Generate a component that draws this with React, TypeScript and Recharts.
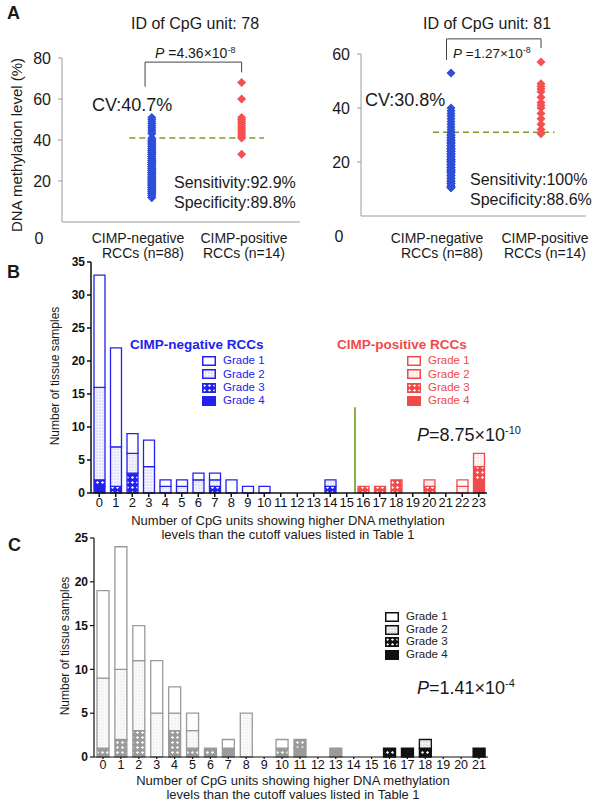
import type { CSSProperties, ReactNode } from "react";
import {
  ScatterChart,
  Scatter,
  XAxis,
  YAxis,
  ReferenceLine,
  BarChart,
  Bar,
  Cell,
} from "recharts";

const FONT = '"Liberation Sans", Arial, Helvetica, sans-serif';

// ---- panel A: methylation level per sample ----
const groupX = { negative: 2, positive: 4 };

const unit78Negative = [
  51, 50, 49, 48, 47, 46, 45, 44, 43, 41, 40, 40, 39, 39, 38, 38, 37, 37, 36,
  36, 35, 35, 35, 34, 34, 33, 33, 33, 32, 32, 31, 31, 31, 30, 30, 30, 29, 29,
  29, 28, 28, 28, 27, 27, 27, 26, 26, 26, 25, 25, 25, 24, 24, 24, 23, 23, 23,
  22, 22, 22, 21, 21, 21, 20, 20, 20, 19, 19, 19, 18, 18, 18, 17, 17, 17, 16,
  16, 16, 15, 15, 15, 14, 14, 14, 13, 13, 12, 12,
];
const unit78Positive = [68, 60, 51, 50, 49, 48, 47, 46, 45, 44, 43, 42, 41, 33];
const unit81Negative = [
  53, 40, 39, 38, 37, 36, 35, 34, 33, 32, 31, 31, 30, 30, 30, 29, 29, 29, 28,
  28, 28, 27, 27, 27, 27, 26, 26, 26, 26, 25, 25, 25, 25, 24, 24, 24, 24, 23,
  23, 23, 23, 22, 22, 22, 22, 21, 21, 21, 21, 20, 20, 20, 20, 19, 19, 19, 19,
  18, 18, 18, 18, 17, 17, 17, 17, 16, 16, 16, 15, 15, 15, 14, 14, 14, 13, 13,
  13, 12, 12, 12, 11, 11, 11, 10.5, 10.5, 24.5, 20.5, 16.5,
];
const unit81Positive = [57, 49, 48, 47, 46, 44, 42, 41, 40, 38, 36, 34, 32, 30.5];
const unit78Cutoff = 41;
const unit81Cutoff = 31;

// ---- panel B: 102 RCCs, stacked by grade ----
const bCounts = [
  0, 1, 2, 3, 4, 5, 6, 7, 8, 9, 10, 11, 12, 13, 14, 15, 16, 17, 18, 19, 20, 21,
  22, 23,
];
const bGrade1 = [17, 15, 3, 4, 1, 1, 1, 1, 2, 1, 1, 0, 0, 0, 0, 0, 0, 0, 0, 0, 0, 0, 1, 0];
const bGrade2 = [14, 6, 3, 4, 1, 1, 2, 1, 0, 0, 0, 0, 0, 0, 1, 0, 0, 0, 0, 0, 1, 0, 1, 2];
const bGrade3 = [1, 1, 3, 0, 0, 0, 0, 1, 0, 0, 0, 0, 0, 0, 1, 0, 1, 1, 2, 0, 1, 0, 0, 2];
const bGrade4 = [1, 0, 0, 0, 0, 0, 0, 0, 0, 0, 0, 0, 0, 0, 0, 0, 0, 0, 0, 0, 0, 0, 0, 2];
const bPositiveFrom = 16;
const bCutoffCount = 16;
const bCutoffHeight = 13;

// ---- panel C ----
const cCounts = [
  0, 1, 2, 3, 4, 5, 6, 7, 8, 9, 10, 11, 12, 13, 14, 15, 16, 17, 18, 19, 20, 21,
];
const cGrade1 = [10, 14, 4, 6, 3, 2, 0, 1, 0, 0, 1, 0, 0, 0, 0, 0, 0, 0, 0, 0, 0, 0];
const cGrade2 = [8, 8, 8, 5, 2, 2, 0, 0, 5, 0, 0, 0, 0, 0, 0, 0, 0, 0, 1, 0, 0, 0];
const cGrade3 = [1, 2, 3, 0, 3, 1, 1, 0, 0, 0, 1, 1, 0, 0, 0, 0, 1, 0, 1, 0, 0, 0];
const cGrade4 = [0, 0, 0, 0, 0, 0, 0, 1, 0, 0, 0, 1, 0, 1, 0, 0, 0, 1, 0, 0, 0, 1];
const cPositiveFrom = 16;

const gradeLabels = ["Grade 1", "Grade 2", "Grade 3", "Grade 4"];

const palette: Record<string, string> = {
  blue: "#2222ee",
  red: "#f04a4a",
  grey: "#9a9a9a",
  black: "#111111",
};

function fillFor(grade: number, colour: string) {
  if (grade === 1) return "#ffffff";
  if (grade === 2) return `url(#dots-${colour})`;
  if (grade === 3) return `url(#cross-${colour})`;
  return palette[colour];
}

function PatternDefs() {
  return (
    <svg width={0} height={0} style={{ position: "absolute" }}>
      <defs>
        {Object.keys(palette).map((c) => (
          <g key={c}>
            <pattern id={`dots-${c}`} width={3} height={3} patternUnits="userSpaceOnUse">
              <rect width={3} height={3} fill="#fff" />
              <rect width={3} height={3} fill={palette[c]} opacity={0.05} />
              <circle cx={1} cy={1} r={0.55} fill={palette[c]} opacity={0.4} />
            </pattern>
            <pattern id={`cross-${c}`} width={5} height={5} patternUnits="userSpaceOnUse">
              <rect width={5} height={5} fill={palette[c]} />
              <path d="M2.5,0.9 L4.1,2.5 L2.5,4.1 L0.9,2.5 Z" fill="#fff" />
            </pattern>
          </g>
        ))}
      </defs>
    </svg>
  );
}

interface TextProps {
  x: number;
  y: number;
  size: number;
  align?: "left" | "center" | "right";
  bold?: boolean;
  color?: string;
  rotate?: boolean;
  children: ReactNode;
}

function Text({ x, y, size, align = "left", bold, color = "#1a1a1a", rotate, children }: TextProps) {
  const shift = align === "left" ? "0" : align === "center" ? "-50%" : "-100%";
  const style: CSSProperties = {
    position: "absolute",
    left: x,
    top: y,
    fontSize: size,
    fontFamily: FONT,
    fontWeight: bold ? "bold" : "normal",
    color,
    whiteSpace: "nowrap",
    lineHeight: 1,
    transform: rotate
      ? "translate(-50%, -50%) rotate(-90deg)"
      : `translate(${shift}, -50%)`,
  };
  return <div style={style}>{children}</div>;
}

function GradeLegend({ x, y, gap, colour, textColour, size }: {
  x: number; y: number; gap: number; colour: string; textColour: string; size: number;
}) {
  return (
    <>
      {gradeLabels.map((label, i) => (
        <div
          key={label}
          style={{ position: "absolute", left: x, top: y + i * gap - 5, display: "flex", alignItems: "center", height: 10 }}
        >
          <svg width={14} height={10}>
            <rect x={0.75} y={0.75} width={12.5} height={8.5} fill={fillFor(i + 1, colour)} stroke={palette[colour]} strokeWidth={1.5} />
          </svg>
          <span style={{ marginLeft: 7, fontSize: size, fontFamily: FONT, color: textColour, lineHeight: 1 }}>
            {label}
          </span>
        </div>
      ))}
    </>
  );
}

const Diamond = (props: any) => {
  const { cx, cy, fill } = props;
  const r = 4.5;
  return <path d={`M${cx},${cy - r}L${cx + r},${cy}L${cx},${cy + r}L${cx - r},${cy}Z`} fill={fill} />;
};

const toPoints = (values: number[], x: number) => values.map((y) => ({ x, y }));

interface MethylationProps {
  width: number;
  margin: { top: number; right: number; bottom: number; left: number };
  xMax: number;
  yMax: number;
  yTicks: number[];
  negative: number[];
  positive: number[];
  cutoff: number;
  cutoffFrom: number;
  cutoffTo: number;
  bracket: { left: number; top: number; leftEnd: number; rightEnd: number };
}

function MethylationPanel(p: MethylationProps) {
  const axisColour = "#9a9a9a";
  const b = p.bracket;
  return (
    <ScatterChart width={p.width} height={260} margin={p.margin}>
      <XAxis
        type="number"
        dataKey="x"
        domain={[0, p.xMax]}
        ticks={[0, 1, 2, 3, 4, 5]}
        tick={false}
        tickSize={5}
        height={10}
        axisLine={{ stroke: axisColour }}
        tickLine={{ stroke: axisColour }}
      />
      <YAxis
        type="number"
        dataKey="y"
        domain={[0, p.yMax]}
        ticks={p.yTicks}
        width={50}
        tickSize={4}
        tickMargin={7}
        axisLine={{ stroke: axisColour }}
        tickLine={{ stroke: axisColour }}
        tick={{ fontSize: 16, fill: "#1a1a1a", fontFamily: FONT }}
      />
      <ReferenceLine
        segment={[{ x: p.cutoffFrom, y: p.cutoff }, { x: p.cutoffTo, y: p.cutoff }]}
        stroke="#7f9a2c"
        strokeWidth={1.5}
        strokeDasharray="6 4"
      />
      <Scatter data={toPoints(p.negative, groupX.negative)} fill="#2d4fd8" shape={Diamond} isAnimationActive={false} />
      <Scatter data={toPoints(p.positive, groupX.positive)} fill="#f55050" shape={Diamond} isAnimationActive={false} />
      <ReferenceLine ifOverflow="visible" segment={[{ x: b.left, y: b.leftEnd }, { x: b.left, y: b.top }]} stroke="#444" />
      <ReferenceLine ifOverflow="visible" segment={[{ x: b.left, y: b.top }, { x: groupX.positive, y: b.top }]} stroke="#444" />
      <ReferenceLine ifOverflow="visible" segment={[{ x: groupX.positive, y: b.top }, { x: groupX.positive, y: b.rightEnd }]} stroke="#444" />
    </ScatterChart>
  );
}

interface GradeChartProps {
  counts: number[];
  g1: number[];
  g2: number[];
  g3: number[];
  g4: number[];
  positiveFrom: number;
  negativeColour: string;
  positiveColour: string;
  height: number;
  margin: { top: number; right: number; bottom: number; left: number };
  yMax: number;
  barSize: number;
  axisWidth: number;
  xTickSize: number;
  xTickFont: number;
  children?: ReactNode;
}

function GradeChart(p: GradeChartProps) {
  const data = p.counts.map((count, i) => ({
    count,
    g1: p.g1[i],
    g2: p.g2[i],
    g3: p.g3[i],
    g4: p.g4[i],
  }));
  const colourAt = (count: number) => (count >= p.positiveFrom ? p.positiveColour : p.negativeColour);
  const ticks: number[] = [];
  for (let t = 0; t <= p.yMax; t += 5) ticks.push(t);
  const series: [string, number][] = [["g4", 4], ["g3", 3], ["g2", 2], ["g1", 1]];
  return (
    <BarChart width={500} height={p.height} data={data} margin={p.margin} barSize={p.barSize}>
      <XAxis
        dataKey="count"
        interval={0}
        height={20}
        tickSize={p.xTickSize}
        tickMargin={1}
        axisLine={{ stroke: "#111", strokeWidth: p.axisWidth }}
        tickLine={{ stroke: "#111", strokeWidth: p.axisWidth }}
        tick={{ fontSize: p.xTickFont, fill: "#111", fontFamily: FONT }}
      />
      <YAxis
        domain={[0, p.yMax]}
        ticks={ticks}
        width={41}
        tickSize={4}
        tickMargin={2}
        axisLine={{ stroke: "#111", strokeWidth: p.axisWidth }}
        tickLine={{ stroke: "#111", strokeWidth: p.axisWidth }}
        tick={{ fontSize: 12, fontWeight: "bold", fill: "#111", fontFamily: FONT }}
      />
      {series.map(([key, grade]) => (
        <Bar key={key} dataKey={key} stackId="grades" isAnimationActive={false}>
          {data.map((d) => (
            <Cell
              key={d.count}
              fill={fillFor(grade, colourAt(d.count))}
              stroke={palette[colourAt(d.count)]}
              strokeWidth={1.3}
            />
          ))}
        </Bar>
      ))}
      {p.children}
    </BarChart>
  );
}

export default function App() {
  return (
    <div style={{ position: "absolute", left: 0, top: 0, width: 600, height: 800, background: "#fff", overflow: "hidden" }}>
      <PatternDefs />

      {/* panel A */}
      <div style={{ position: "absolute", left: 0, top: 0 }}>
        <MethylationPanel
          width={310}
          margin={{ top: 58, right: 10, bottom: 28, left: 12 }}
          xMax={5.3}
          yMax={80}
          yTicks={[20, 40, 60, 80]}
          negative={unit78Negative}
          positive={unit78Positive}
          cutoff={unit78Cutoff}
          cutoffFrom={1.5}
          cutoffTo={4.5}
          bracket={{ left: 1.85, top: 78, leftEnd: 66, rightEnd: 73 }}
        />
      </div>
      <div style={{ position: "absolute", left: 300, top: 0 }}>
        <MethylationPanel
          width={300}
          margin={{ top: 54, right: 14, bottom: 34, left: 11 }}
          xMax={5}
          yMax={60}
          yTicks={[20, 40, 60]}
          negative={unit81Negative}
          positive={unit81Positive}
          cutoff={unit81Cutoff}
          cutoffFrom={1.6}
          cutoffTo={4.3}
          bracket={{ left: 1.9, top: 65.6, leftEnd: 57.8, rightEnd: 62.2 }}
        />
      </div>

      <Text x={7} y={13} size={18} bold>A</Text>
      <Text x={195} y={24} size={16} align="center">ID of CpG unit: 78</Text>
      <Text x={487} y={24} size={16} align="center">ID of CpG unit: 81</Text>
      <Text x={16} y={145} size={15} rotate>DNA methylation level (%)</Text>
      <Text x={39} y={239} size={16} align="center">0</Text>
      <Text x={339} y={237} size={16} align="center">0</Text>
      <Text x={155} y={53} size={14}><i>P</i> =4.36×10<sup style={{ fontSize: 9 }}>-8</sup></Text>
      <Text x={453} y={53} size={13.5}><i>P</i> =1.27×10<sup style={{ fontSize: 9 }}>-8</sup></Text>
      <Text x={92} y={105} size={18}>CV:40.7%</Text>
      <Text x={365} y={100} size={18}>CV:30.8%</Text>
      <Text x={174} y={183} size={16}>Sensitivity:92.9%</Text>
      <Text x={174} y={203} size={16}>Specificity:89.8%</Text>
      <Text x={470} y={180} size={16}>Sensitivity:100%</Text>
      <Text x={470} y={200} size={16}>Specificity:88.6%</Text>
      <Text x={138} y={238} size={14} align="center">CIMP-negative</Text>
      <Text x={143} y={253} size={14} align="center">RCCs (n=88)</Text>
      <Text x={244} y={238} size={14} align="center">CIMP-positive</Text>
      <Text x={244} y={253} size={14} align="center">RCCs (n=14)</Text>
      <Text x={437} y={238} size={14} align="center">CIMP-negative</Text>
      <Text x={442} y={253} size={14} align="center">RCCs (n=88)</Text>
      <Text x={545} y={238} size={14} align="center">CIMP-positive</Text>
      <Text x={545} y={253} size={14} align="center">RCCs (n=14)</Text>

      {/* panel B */}
      <div style={{ position: "absolute", left: 0, top: 250 }}>
        <GradeChart
          counts={bCounts}
          g1={bGrade1}
          g2={bGrade2}
          g3={bGrade3}
          g4={bGrade4}
          positiveFrom={bPositiveFrom}
          negativeColour="blue"
          positiveColour="red"
          height={280}
          margin={{ top: 12, right: 13, bottom: 17, left: 50 }}
          yMax={35}
          barSize={11}
          axisWidth={1.5}
          xTickSize={4}
          xTickFont={13}
        >
          <ReferenceLine
            segment={[{ x: bCutoffCount, y: 0 }, { x: bCutoffCount, y: bCutoffHeight }]}
            position="start"
            stroke="#8cb04a"
            strokeWidth={2}
          />
        </GradeChart>
      </div>
      <Text x={7} y={272} size={18} bold>B</Text>
      <Text x={55} y={376} size={12} rotate>Number of tissue samples</Text>
      <Text x={130} y={345} size={13.5} bold color={palette.blue}>CIMP-negative RCCs</Text>
      <GradeLegend x={202} y={361} gap={13.4} colour="blue" textColour={palette.blue} size={11.5} />
      <Text x={337} y={345} size={13.5} bold color={palette.red}>CIMP-positive RCCs</Text>
      <GradeLegend x={407} y={361} gap={13.4} colour="red" textColour={palette.red} size={11.5} />
      <Text x={417} y={434} size={18}><i>P</i>=8.75×10<sup style={{ fontSize: 11 }}>-10</sup></Text>
      <Text x={288} y={520} size={13} align="center">Number of CpG units showing higher DNA methylation</Text>
      <Text x={288} y={534} size={13} align="center">levels than the cutoff values listed in Table 1</Text>

      {/* panel C */}
      <div style={{ position: "absolute", left: 0, top: 525 }}>
        <GradeChart
          counts={cCounts}
          g1={cGrade1}
          g2={cGrade2}
          g3={cGrade3}
          g4={cGrade4}
          positiveFrom={cPositiveFrom}
          negativeColour="grey"
          positiveColour="black"
          height={275}
          margin={{ top: 13, right: 12, bottom: 23, left: 53 }}
          yMax={25}
          barSize={12}
          axisWidth={1.2}
          xTickSize={2}
          xTickFont={12.5}
        />
      </div>
      <Text x={8} y={545} size={18} bold>C</Text>
      <Text x={65} y={646} size={12} rotate>Number of tissue samples</Text>
      <GradeLegend x={385} y={617} gap={12.6} colour="black" textColour="#222" size={11.5} />
      <Text x={417} y={687} size={18}><i>P</i>=1.41×10<sup style={{ fontSize: 11 }}>-4</sup></Text>
      <Text x={293} y={780} size={13} align="center">Number of CpG units showing higher DNA methylation</Text>
      <Text x={293} y={794} size={13} align="center">levels than the cutoff values listed in Table 1</Text>
    </div>
  );
}
